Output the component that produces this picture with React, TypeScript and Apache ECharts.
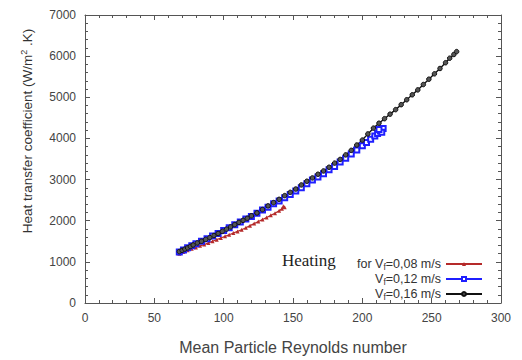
import React, { useEffect, useRef } from "react";
import * as echarts from "echarts";

const xTicks = [0, 50, 100, 150, 200, 250, 300];
const yTicks = [0, 1000, 2000, 3000, 4000, 5000, 6000, 7000];

const seriesNames = ["Vf=0,08 m/s", "Vf=0,12 m/s", "Vf=0,16 m/s"];
const legendLabels = [
  "{n|for V}{s|f}{n|=0,08 m/s}",
  "{n|V}{s|f}{n|=0,12 m/s}",
  "{n|V}{s|f}{n|=0,16 m/s}",
];

// Vf = 0.08 m/s (red)
const redRe = [68, 71, 74, 77, 80, 83, 86, 89, 92, 95, 98, 101, 104, 107, 110, 113, 116, 119, 122, 125, 128, 131, 134, 137, 140, 142, 144, 143];
const redH = [1200, 1240, 1280, 1320, 1350, 1390, 1420, 1460, 1500, 1540, 1580, 1620, 1660, 1700, 1740, 1780, 1830, 1880, 1930, 1980, 2030, 2080, 2130, 2180, 2240, 2290, 2330, 2350];

// Vf = 0.12 m/s (blue)
const blueRe = [68, 71, 74, 77, 80, 84, 88, 92, 96, 100, 104, 108, 112, 116, 120, 124, 128, 132, 136, 140, 144, 148, 152, 156, 160, 164, 168, 172, 176, 180, 184, 188, 192, 196, 200, 203, 206, 209, 211, 213, 215, 214, 212];
const blueH = [1240, 1290, 1340, 1390, 1440, 1500, 1560, 1630, 1690, 1760, 1830, 1900, 1970, 2040, 2100, 2180, 2260, 2330, 2410, 2480, 2560, 2640, 2720, 2800, 2900, 2990, 3060, 3140, 3240, 3320, 3430, 3520, 3620, 3720, 3820, 3900, 3980, 4060, 4120, 4180, 4240, 4150, 4220];

// Vf = 0.16 m/s (black)
const blackRe = [68, 70, 72, 74, 76, 78, 81, 84, 87, 90, 93, 96, 99, 102, 105, 108, 111, 114, 117, 120, 124, 128, 132, 136, 140, 144, 148, 152, 156, 160, 164, 168, 172, 176, 180, 184, 188, 192, 196, 200, 204, 208, 212, 216, 220, 224, 228, 232, 236, 240, 244, 248, 252, 256, 260, 263, 266, 268];
const blackH = [1250, 1280, 1310, 1340, 1375, 1410, 1460, 1500, 1545, 1590, 1640, 1690, 1740, 1795, 1850, 1905, 1960, 2010, 2060, 2120, 2190, 2270, 2360, 2440, 2520, 2610, 2690, 2770, 2870, 2960, 3040, 3130, 3210, 3300, 3400, 3490, 3600, 3710, 3840, 3960, 4110, 4250, 4370, 4480, 4590, 4700, 4820, 4940, 5060, 5180, 5310, 5440, 5570, 5700, 5840, 5950, 6040, 6110];

const zip = (a: number[], b: number[]) => a.map((v, i) => [v, b[i]]);

export default function App() {
  const ref = useRef<HTMLDivElement>(null);
  useEffect(() => {
    if (!ref.current) return;
    const chart = echarts.init(ref.current, null, { renderer: "svg" });
    const font = "Liberation Sans, Arial, sans-serif";
    const axisColor = "#555";
    const common = {
      type: "value" as const,
      splitLine: { show: false },
      axisLine: { show: true, onZero: false, lineStyle: { color: axisColor, width: 1 } },
      axisTick: { show: true, inside: true, length: 5, lineStyle: { color: axisColor } },
      minorTick: { show: true, splitNumber: 5, length: 3, lineStyle: { color: axisColor } },
    };
    const xBase = { ...common, min: xTicks[0], max: xTicks[xTicks.length - 1], interval: 50 };
    const yBase = { ...common, min: yTicks[0], max: yTicks[yTicks.length - 1], interval: 1000 };
    const tickLabel = {
      fontFamily: font,
      fontSize: 12,
      color: "#444",
      formatter: (v: number) => String(v),
    };
    chart.setOption({
      animation: false,
      backgroundColor: "#fff",
      grid: { left: 85, right: 21, top: 15, bottom: 57 },
      xAxis: [
        {
          ...xBase,
          position: "bottom",
          name: "Mean Particle Reynolds number",
          nameLocation: "middle",
          nameGap: 36,
          nameTextStyle: { fontFamily: font, fontSize: 16, color: "#444" },
          axisLabel: { ...tickLabel, margin: 9 },
        },
        { ...xBase, position: "top", axisLabel: { show: false } },
      ],
      yAxis: [
        { ...yBase, position: "left", axisLabel: { ...tickLabel, margin: 9 } },
        { ...yBase, position: "right", axisLabel: { show: false } },
      ],
      legend: {
        orient: "vertical",
        right: 39,
        top: 257,
        align: "right",
        itemWidth: 36,
        itemHeight: 5,
        itemGap: 1,
        padding: 0,
        data: seriesNames,
        formatter: (name: string) => legendLabels[seriesNames.indexOf(name)],
        textStyle: {
          fontFamily: font,
          color: "#333",
          padding: [0, 0, 0, 0],
          rich: {
            n: { fontFamily: font, fontSize: 12.5, color: "#333", lineHeight: 12 },
            s: { fontFamily: font, fontSize: 8.5, color: "#333", lineHeight: 12, padding: [5, 0, 0, 0] },
          },
        },
      },
      graphic: [
        {
          type: "text",
          left: 282,
          top: 252,
          style: {
            text: "Heating",
            font: "17px 'Liberation Serif', 'Times New Roman', serif",
            fill: "#222",
          },
        },
        {
          type: "text",
          x: 27,
          y: 131,
          rotation: Math.PI / 2,
          style: {
            text: "{t|Heat transfer coefficient (W/m}{sup|2}{t| .K)}",
            align: "center",
            verticalAlign: "middle",
            rich: {
              t: { fontFamily: font, fontSize: 13.5, fill: "#333", lineHeight: 16 },
              sup: { fontFamily: font, fontSize: 9, fill: "#333", lineHeight: 16, padding: [0, 0, 7, 0] },
            },
          },
        },
      ],
      series: [
        {
          name: seriesNames[0],
          type: "line",
          data: zip(redRe, redH),
          symbol: "triangle",
          symbolSize: 4,
          color: "#b52a2a",
          lineStyle: { width: 1.2, color: "#b52a2a" },
          itemStyle: { color: "#b52a2a" },
        },
        {
          name: seriesNames[1],
          type: "line",
          data: zip(blueRe, blueH),
          symbol: "emptyRect",
          symbolSize: 5,
          color: "#1f1fff",
          lineStyle: { width: 1.2, color: "#1f1fff" },
          itemStyle: { color: "#1f1fff", borderColor: "#1f1fff", borderWidth: 1 },
        },
        {
          name: seriesNames[2],
          type: "line",
          data: zip(blackRe, blackH),
          symbol: "circle",
          symbolSize: 4.5,
          color: "#222",
          lineStyle: { width: 1.4, color: "#111" },
          itemStyle: { color: "#555", borderColor: "#111", borderWidth: 1 },
        },
      ],
    });
    return () => chart.dispose();
  }, []);
  return (
    <div
      ref={ref}
      style={{ position: "absolute", left: 0, top: 0, width: 522, height: 360 }}
    />
  );
}
